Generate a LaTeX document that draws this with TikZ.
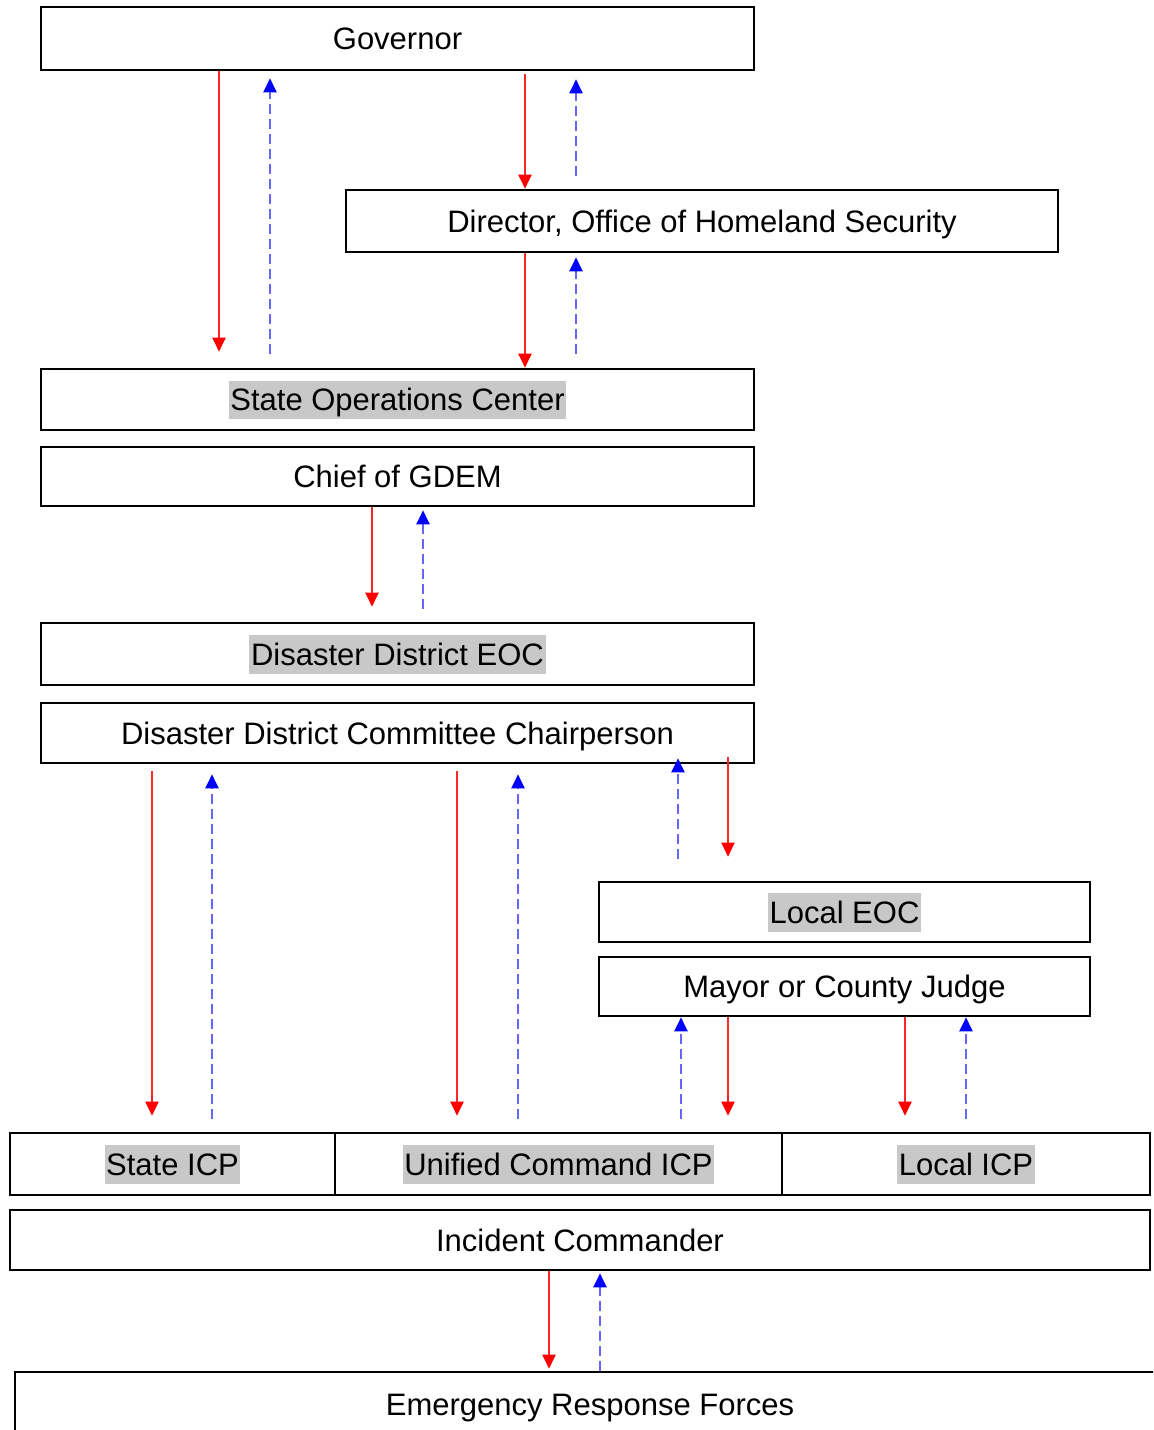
\documentclass[tikz,border=0pt]{standalone}
\usepackage{fontspec}
\setmainfont{Liberation Sans}
\usepackage{xcolor}
\usepackage{tikz}
\usetikzlibrary{arrows.meta}
\pgfdeclarelayer{nodelayer}
\pgfdeclarelayer{edgelayer}
\pgfsetlayers{nodelayer, edgelayer, main}
\definecolor{hlgray}{RGB}{200,200,200}
\newcommand{\hl}[1]{{\setlength{\fboxsep}{0.8pt}\colorbox{hlgray}{\rule[-3.5pt]{0pt}{17.5pt}#1}}}

\begin{document}
\begin{tikzpicture} [x=0.5pt, y=-0.5pt,
    box/.style={draw, line width=1.3pt, inner sep=0pt, text height=11pt, text depth=0pt, font=\fontsize{15.5}{18}\selectfont},
    down/.style={draw=red!85, line width=1pt, -{Triangle[width=6.5pt,length=7pt,color=red]}},
    up/.style={draw=blue!60, line width=1.2pt, dash pattern=on 5pt off 2.5pt, -{Triangle[width=6.5pt,length=7pt,color=blue]}}]
    \useasboundingbox (0,0) rectangle (1153,1430);
	\begin{pgfonlayer}{nodelayer}
        \clip (0,0) rectangle (1153,1430);
        \node[box, minimum width=356.5pt, minimum height=31.5pt] (1) at (397.5,38.5) {Governor};
        \node[box, minimum width=356pt, minimum height=31pt] (2) at (702,221) {Director, Office of Homeland Security};
        \node[box, minimum width=356.5pt, minimum height=30.5pt] (3) at (397.5,399.5) {\hl{State Operations Center}};
        \node[box, minimum width=356.5pt, minimum height=29.5pt] (4) at (397.5,476.5) {Chief of GDEM};
        \node[box, minimum width=356.5pt, minimum height=31pt] (5) at (397.5,654) {\hl{Disaster District EOC}};
        \node[box, minimum width=356.5pt, minimum height=30pt] (6) at (397.5,733) {Disaster District Committee Chairperson};
        \node[box, minimum width=245.5pt, minimum height=30pt] (7) at (844.5,912) {\hl{Local EOC}};
        \node[box, minimum width=245.5pt, minimum height=29.5pt] (8) at (844.5,986.5) {Mayor or County Judge};
        \node[box, minimum width=162.5pt, minimum height=31pt] (9) at (172.5,1164) {\hl{State ICP}};
        \node[box, minimum width=223.5pt, minimum height=31pt] (10) at (558.5,1164) {\hl{Unified Command ICP}};
        \node[box, minimum width=184pt, minimum height=31pt] (11) at (966,1164) {\hl{Local ICP}};
        \node[box, minimum width=570pt, minimum height=30pt] (12) at (580,1240) {Incident Commander};
        \node[box, minimum width=575pt, minimum height=32pt] (13) at (590,1404) {Emergency Response Forces};
	\end{pgfonlayer}
	\begin{pgfonlayer}{edgelayer}
        % orders go down
        \draw[down, shorten >=8pt] (1.south -| 219,0) -- (3.north -| 219,0);
        \draw[down, shorten <=1.5pt] (1.south -| 525,0) -- (2.north -| 525,0);
        \draw[down] (2.south -| 525,0) -- (3.north -| 525,0);
        \draw[down, shorten >=7.5pt] (4.south -| 372,0) -- (5.north -| 372,0);
        \draw[down, shorten <=3.5pt, shorten >=8pt] (6.south -| 152,0) -- (9.north -| 152,0);
        \draw[down, shorten <=3.5pt, shorten >=8pt] (6.south -| 457,0) -- (10.north -| 457,0);
        \draw[down, shorten <=-3.5pt, shorten >=12pt] (6.south -| 728,0) -- (7.north -| 728,0);
        \draw[down, shorten >=8pt] (8.south -| 728,0) -- (10.north -| 728,0);
        \draw[down, shorten >=8pt] (8.south -| 905,0) -- (11.north -| 905,0);
        \draw[down, shorten >=1pt] (12.south -| 549,0) -- (13.north -| 549,0);
        % reports go up
        \draw[up, shorten <=7pt, shorten >=3.5pt] (3.north -| 270,0) -- (1.south -| 270,0);
        \draw[up, shorten <=6.5pt, shorten >=4pt] (2.north -| 576,0) -- (1.south -| 576,0);
        \draw[up, shorten <=7pt, shorten >=2pt] (3.north -| 576,0) -- (2.south -| 576,0);
        \draw[up, shorten <=6.5pt, shorten >=1.5pt] (5.north -| 423,0) -- (4.south -| 423,0);
        \draw[up, shorten <=6.5pt, shorten >=5pt] (9.north -| 212,0) -- (6.south -| 212,0);
        \draw[up, shorten <=6.5pt, shorten >=5pt] (10.north -| 518,0) -- (6.south -| 518,0);
        \draw[up, shorten <=11pt, shorten >=-3pt] (7.north -| 678,0) -- (6.south -| 678,0);
        \draw[up, shorten <=6.5pt] (10.north -| 681,0) -- (8.south -| 681,0);
        \draw[up, shorten <=6.5pt] (11.north -| 966,0) -- (8.south -| 966,0);
        \draw[up, shorten >=1pt] (13.north -| 600,0) -- (12.south -| 600,0);
	\end{pgfonlayer}
    \end{tikzpicture}
\end{document}
